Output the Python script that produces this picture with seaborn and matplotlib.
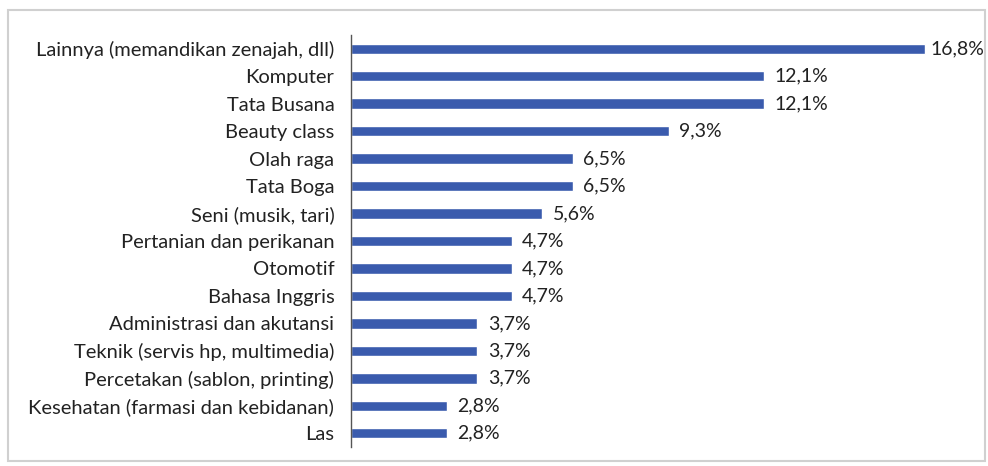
import matplotlib
matplotlib.use("Agg")
import matplotlib.pyplot as plt
import seaborn as sns
import pandas as pd
from matplotlib.patches import Rectangle

categories = [
    "Lainnya (memandikan zenajah, dll)",
    "Komputer",
    "Tata Busana",
    "Beauty class",
    "Olah raga",
    "Tata Boga",
    "Seni (musik, tari)",
    "Pertanian dan perikanan",
    "Otomotif",
    "Bahasa Inggris",
    "Administrasi dan akutansi",
    "Teknik (servis hp, multimedia)",
    "Percetakan (sablon, printing)",
    "Kesehatan (farmasi dan kebidanan)",
    "Las",
]
values = [16.8, 12.1, 12.1, 9.3, 6.5, 6.5, 5.6, 4.7, 4.7, 4.7, 3.7, 3.7, 3.7, 2.8, 2.8]

df = pd.DataFrame({"kategori": categories, "persen": values})

sns.set_theme(style="white")
plt.rcParams["font.family"] = ["Lato", "DejaVu Sans"]

fig = plt.figure(figsize=(9.88, 4.66), dpi=100)
ax = fig.add_axes([351 / 988, 1 - 447 / 466, 600 / 988, 412 / 466])

sns.barplot(data=df, x="persen", y="kategori", orient="h", color="#3A5BAD",
            saturation=1, width=0.38, ax=ax)

ax.set_xlim(0, 600 / 34.17)
ax.set_xlabel("")
ax.set_ylabel("")
ax.set_xticks([])
for s in ["top", "right", "bottom"]:
    ax.spines[s].set_visible(False)
ax.spines["left"].set_color("#555555")
ax.spines["left"].set_linewidth(1)
ax.tick_params(axis="y", length=0, pad=12, labelsize=14.5, labelcolor="#222222")

# label nilai, koma sebagai desimal
for i, v in enumerate(values):
    off = 0.15 if i == 0 else 0.3
    ax.text(v + off, i, f"{v:.1f}%".replace(".", ","), va="center", ha="left",
            fontsize=14, color="#222222")

fig.patches.append(Rectangle((8 / 988, 1 - 461 / 466), 977 / 988, 451 / 466,
                             transform=fig.transFigure, fill=False,
                             edgecolor="#d0d0d0", linewidth=1.5))

fig.savefig("out.png", dpi=100)
